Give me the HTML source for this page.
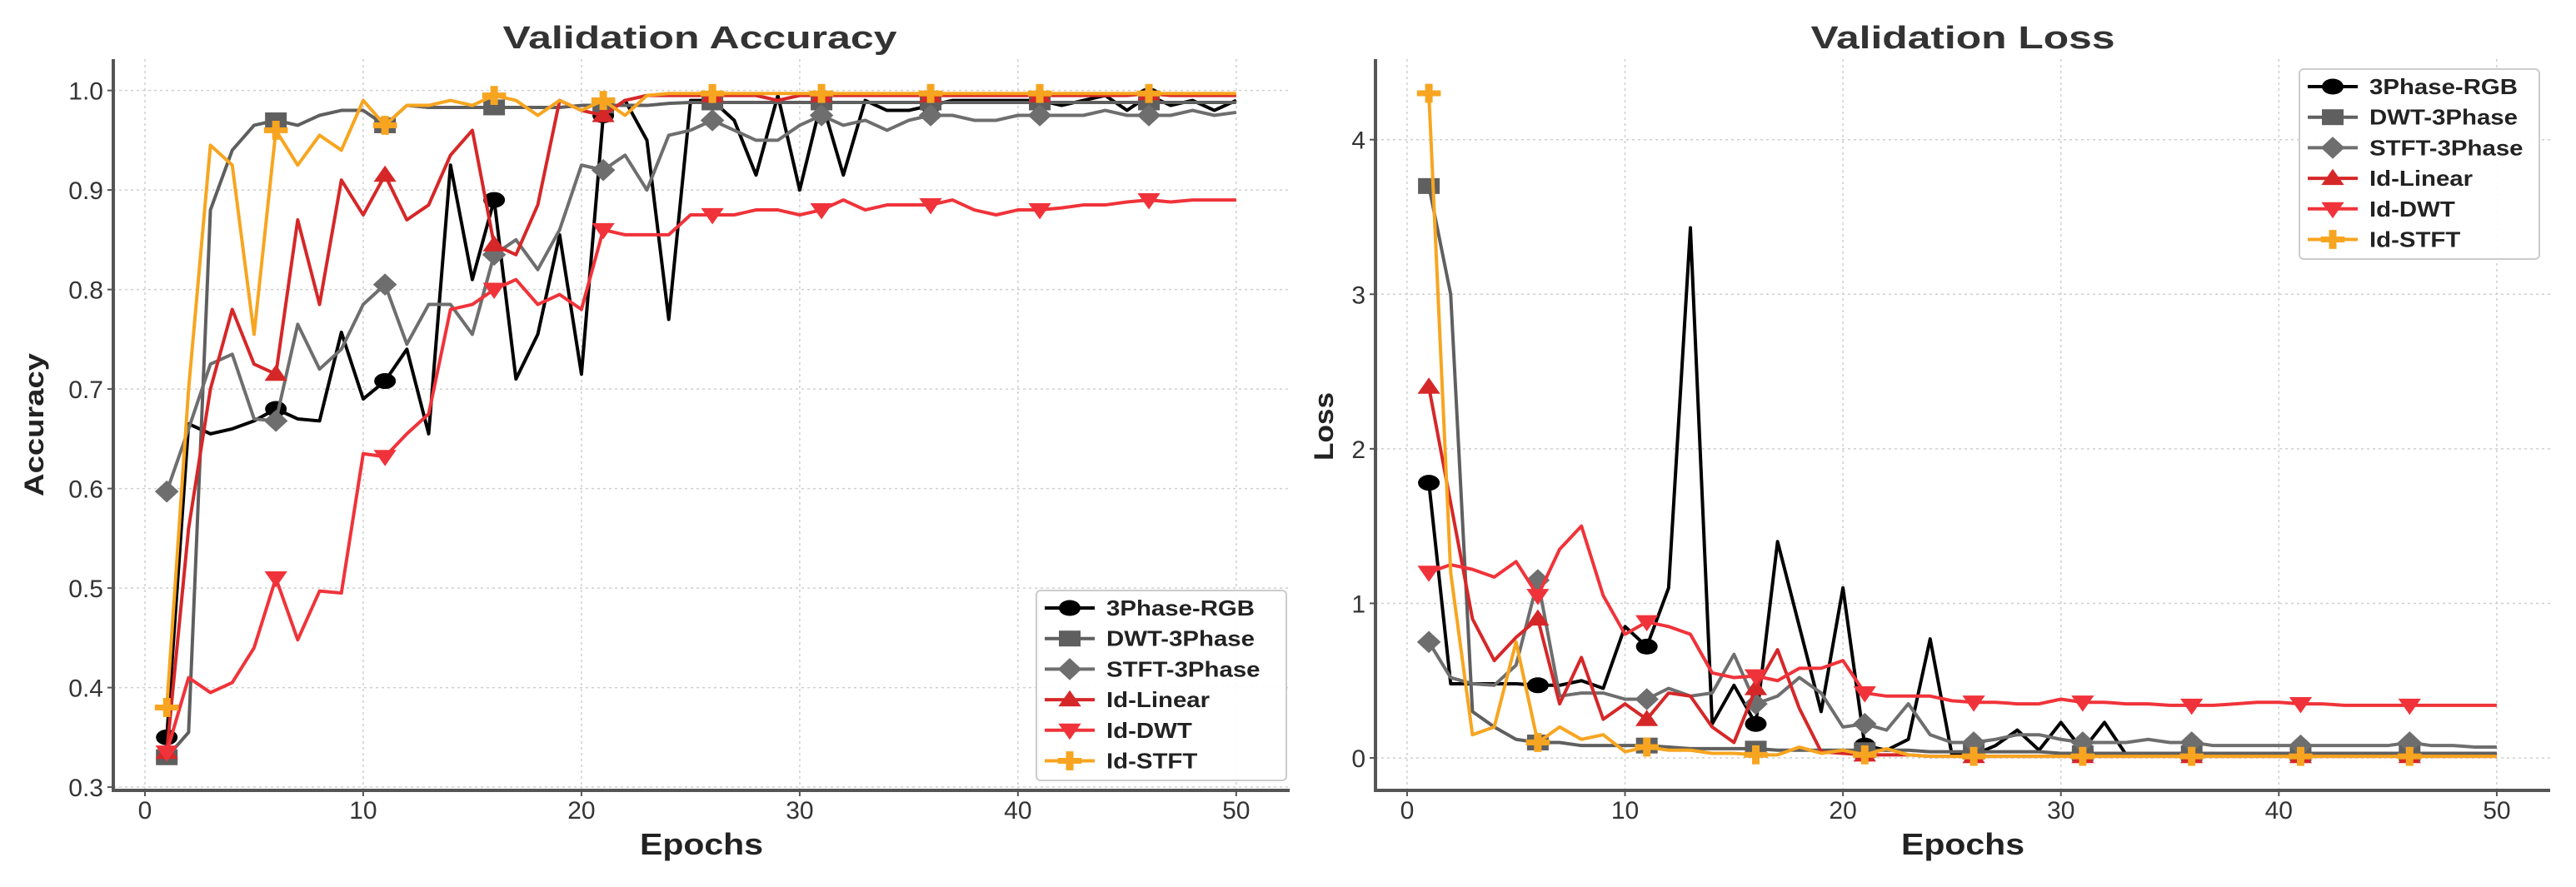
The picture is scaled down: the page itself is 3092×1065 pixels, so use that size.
<!DOCTYPE html>
<html><head><meta charset="utf-8"><style>
html,body{margin:0;padding:0;background:#fff;overflow:hidden}
svg{display:block;font-family:"Liberation Sans","DejaVu Sans",sans-serif}
</style></head><body>
<svg id="fig" width="3092" height="1065" viewBox="0 0 3092 1065" xmlns="http://www.w3.org/2000/svg"></svg>
<script>
const epochs = Array.from({length:50},(_,i)=>i+1);
const seriesNames = ["3Phase-RGB","DWT-3Phase","STFT-3Phase","Id-Linear","Id-DWT","Id-STFT"];
const accRGB = [0.35,0.665,0.655,0.66,0.668,0.68,0.67,0.668,0.757,0.69,0.708,0.74,0.655,0.925,0.81,0.89,0.71,0.755,0.855,0.715,0.975,0.99,0.95,0.77,0.99,0.99,0.97,0.915,0.995,0.9,0.99,0.915,0.99,0.98,0.98,0.985,0.99,0.99,0.99,0.99,0.99,0.985,0.99,0.995,0.98,0.995,0.985,0.99,0.98,0.99];
const accDWT = [0.33,0.355,0.88,0.94,0.965,0.97,0.965,0.975,0.98,0.98,0.965,0.985,0.983,0.983,0.983,0.983,0.983,0.983,0.983,0.985,0.985,0.985,0.985,0.987,0.988,0.988,0.988,0.988,0.988,0.988,0.988,0.988,0.988,0.988,0.988,0.988,0.988,0.988,0.988,0.988,0.988,0.988,0.988,0.988,0.988,0.988,0.988,0.988,0.988,0.988];
const accSTFT = [0.597,0.66,0.725,0.735,0.67,0.668,0.765,0.72,0.74,0.785,0.805,0.745,0.785,0.785,0.755,0.835,0.85,0.82,0.86,0.925,0.92,0.935,0.9,0.955,0.96,0.97,0.96,0.95,0.95,0.965,0.975,0.965,0.97,0.96,0.97,0.975,0.975,0.97,0.97,0.975,0.975,0.975,0.975,0.98,0.975,0.975,0.975,0.98,0.975,0.978];
const accLin = [0.335,0.56,0.7,0.78,0.725,0.715,0.87,0.785,0.91,0.875,0.915,0.87,0.885,0.935,0.96,0.845,0.835,0.885,0.99,0.98,0.975,0.99,0.995,0.995,0.995,0.995,0.995,0.995,0.99,0.995,0.995,0.995,0.995,0.995,0.995,0.995,0.995,0.995,0.995,0.995,0.995,0.995,0.995,0.995,0.995,0.997,0.995,0.995,0.995,0.995];
const accIdDWT = [0.335,0.41,0.395,0.405,0.44,0.51,0.448,0.497,0.495,0.635,0.632,0.655,0.675,0.78,0.785,0.8,0.81,0.785,0.795,0.78,0.86,0.855,0.855,0.855,0.875,0.875,0.875,0.88,0.88,0.875,0.88,0.89,0.88,0.885,0.885,0.885,0.89,0.88,0.875,0.88,0.88,0.882,0.885,0.885,0.888,0.89,0.888,0.89,0.89,0.89];
const accIdSTFT = [0.38,0.7,0.945,0.925,0.755,0.96,0.925,0.955,0.94,0.99,0.965,0.985,0.985,0.99,0.985,0.995,0.99,0.975,0.99,0.98,0.99,0.975,0.995,0.997,0.997,0.997,0.997,0.997,0.997,0.997,0.997,0.997,0.997,0.997,0.997,0.997,0.997,0.997,0.997,0.997,0.997,0.997,0.997,0.997,0.997,0.997,0.997,0.997,0.997,0.997];
const lossRGB = [1.78,0.48,0.48,0.48,0.48,0.47,0.47,0.5,0.45,0.85,0.72,1.1,3.43,0.22,0.47,0.22,1.4,0.85,0.3,1.1,0.08,0.05,0.12,0.77,0.02,0.02,0.08,0.18,0.05,0.23,0.05,0.23,0.02,0.02,0.02,0.02,0.02,0.02,0.02,0.02,0.02,0.02,0.02,0.02,0.02,0.02,0.02,0.02,0.02,0.02];
const lossDWT = [3.7,3.0,0.3,0.2,0.12,0.1,0.1,0.08,0.08,0.08,0.08,0.07,0.06,0.06,0.06,0.06,0.05,0.05,0.05,0.05,0.05,0.05,0.05,0.04,0.04,0.04,0.04,0.04,0.04,0.03,0.03,0.03,0.03,0.03,0.03,0.03,0.03,0.03,0.03,0.03,0.03,0.03,0.03,0.03,0.03,0.03,0.03,0.03,0.03,0.03];
const lossSTFT = [0.75,0.52,0.48,0.47,0.6,1.15,0.4,0.42,0.42,0.38,0.38,0.45,0.4,0.42,0.67,0.35,0.4,0.52,0.42,0.2,0.22,0.18,0.35,0.15,0.1,0.1,0.12,0.15,0.15,0.12,0.1,0.1,0.1,0.12,0.1,0.1,0.08,0.08,0.08,0.08,0.08,0.08,0.08,0.08,0.08,0.1,0.08,0.08,0.07,0.07];
const lossLin = [2.4,1.65,0.9,0.63,0.78,0.9,0.35,0.65,0.25,0.35,0.25,0.42,0.4,0.2,0.1,0.45,0.7,0.32,0.04,0.03,0.02,0.02,0.02,0.01,0.01,0.01,0.01,0.01,0.01,0.01,0.01,0.01,0.01,0.01,0.01,0.01,0.01,0.01,0.01,0.01,0.01,0.01,0.01,0.01,0.01,0.01,0.01,0.01,0.01,0.01];
const lossIdDWT = [1.2,1.25,1.22,1.17,1.27,1.05,1.35,1.5,1.05,0.8,0.88,0.85,0.8,0.55,0.52,0.53,0.5,0.58,0.58,0.63,0.42,0.4,0.4,0.4,0.37,0.36,0.36,0.35,0.35,0.38,0.36,0.36,0.35,0.35,0.34,0.34,0.34,0.35,0.36,0.36,0.35,0.35,0.34,0.34,0.34,0.34,0.34,0.34,0.34,0.34];
const lossIdSTFT = [4.3,1.2,0.15,0.2,0.75,0.1,0.2,0.12,0.15,0.04,0.07,0.05,0.05,0.03,0.03,0.02,0.02,0.07,0.03,0.05,0.02,0.06,0.02,0.01,0.01,0.01,0.01,0.01,0.01,0.01,0.01,0.01,0.01,0.01,0.01,0.01,0.01,0.01,0.01,0.01,0.01,0.01,0.01,0.01,0.01,0.01,0.01,0.01,0.01,0.01];
const xTicks = [0,10,20,30,40,50];
const accTicks = [0.3,0.4,0.5,0.6,0.7,0.8,0.9,1.0];
const accTickLabels = ["0.3","0.4","0.5","0.6","0.7","0.8","0.9","1.0"];
const lossTicks = [0,1,2,3,4];
const lossTickLabels = ["0","1","2","3","4"];

const NS="http://www.w3.org/2000/svg";
const svg=document.getElementById('fig');
function mk(tag,attrs,parent){const e=document.createElementNS(NS,tag);for(const k in attrs)e.setAttribute(k,attrs[k]);(parent||svg).appendChild(e);return e;}
const styles=[
 {c:"#000000",m:"circle"},{c:"#5f5f5f",m:"square"},{c:"#6e6e6e",m:"diamond"},
 {c:"#d62728",m:"tri-up"},{c:"#f0333a",m:"tri-down"},{c:"#f7a520",m:"plus"}];
const SX=13, SY=9.5;
function marker(g,type,x,y,c){
  const a=SX,b=SY;let e;
  if(type==="circle") e=mk('ellipse',{cx:x,cy:y,rx:a,ry:b,fill:c},g);
  else if(type==="square") e=mk('rect',{x:x-a,y:y-b,width:2*a,height:2*b,fill:c},g);
  else if(type==="diamond") e=mk('polygon',{points:`${x},${y-b*1.4} ${x+a*1.1},${y} ${x},${y+b*1.4} ${x-a*1.1},${y}`,fill:c},g);
  else if(type==="tri-up") e=mk('polygon',{points:`${x},${y-b*1.2} ${x+a*1.05},${y+b*0.85} ${x-a*1.05},${y+b*0.85}`,fill:c},g);
  else if(type==="tri-down") e=mk('polygon',{points:`${x},${y+b*1.2} ${x+a*1.05},${y-b*0.85} ${x-a*1.05},${y-b*0.85}`,fill:c},g);
  else {e=mk('g',{},g);mk('rect',{x:x-a*1.1,y:y-3.5,width:a*2.2,height:7,fill:c},e);mk('rect',{x:x-4.5,y:y-b*1.2,width:9,height:b*2.4,fill:c},e);}
  return e;
}
function chart(o){
  const g=mk('g',{});
  
  
  const xs=e=>o.L+(e-o.xmin)/(o.xmax-o.xmin)*(o.R-o.L);
  const ys=v=>o.B-(v-o.ymin)/(o.ymax-o.ymin)*(o.B-o.T);
  xTicks.forEach(t=>{const l=mk('line',{x1:xs(t),x2:xs(t),y1:o.T,y2:o.B,stroke:'#cfcfcf','stroke-width':1.5,'stroke-dasharray':'3,4'},g);});
  o.yt.forEach(t=>{const l=mk('line',{x1:o.L,x2:o.R,y1:ys(t),y2:ys(t),stroke:'#cfcfcf','stroke-width':1.5,'stroke-dasharray':'3,4'},g);});
  o.data.forEach((d,i)=>{
    const sg=mk('g',{},g);
    
    
    const pts=d.map((v,j)=>xs(epochs[j])+','+ys(v)).join(' ');
    mk('polyline',{points:pts,fill:'none',stroke:styles[i].c,'stroke-width':4,'stroke-linejoin':'round'},sg);
    d.forEach((v,j)=>{ if(j%5===0){const m=marker(sg,styles[i].m,xs(epochs[j]),ys(v),styles[i].c);}});
  });
  const ax=mk('path',{d:`M${o.L},${o.T}V${o.B}H${o.R}`,stroke:'#555','stroke-width':4,fill:'none'},g);
  
  xTicks.forEach(t=>{mk('line',{x1:xs(t),x2:xs(t),y1:o.B,y2:o.B+7,stroke:'#555','stroke-width':2},g);
    const tx=mk('text',{x:xs(t),y:o.B+34,'font-size':30,'text-anchor':'middle',fill:'#333'},g);tx.textContent=t;});
  o.yt.forEach((t,k)=>{mk('line',{x1:o.L-7,x2:o.L,y1:ys(t),y2:ys(t),stroke:'#555','stroke-width':2},g);
    const tx=mk('text',{x:o.L-12,y:ys(t)+11,'font-size':30,'text-anchor':'end',fill:'#333'},g);tx.textContent=o.ytl[k];});
  const ti=mk('text',{x:o.tx,y:58,'font-size':38,'font-weight':'bold','text-anchor':'middle',fill:'#333',textLength:o.tw,lengthAdjust:'spacingAndGlyphs'},g);ti.textContent=o.title;
  const xl=mk('text',{x:(o.L+o.R)/2,y:1026,'font-size':36,'font-weight':'bold','text-anchor':'middle',fill:'#222',textLength:148,lengthAdjust:'spacingAndGlyphs'},g);xl.textContent='Epochs';
  const yl=mk('text',{x:0,y:0,'font-size':32,'font-weight':'bold','text-anchor':'middle',fill:'#222',textLength:o.ylw,lengthAdjust:'spacingAndGlyphs',transform:`translate(${o.ylx},${o.yly}) rotate(-90)`},g);yl.textContent=o.ylabel;
  const lg=mk('g',{},g);
  mk('rect',{x:o.lx,y:o.ly,width:o.lw,height:228,rx:5,fill:'#fff','fill-opacity':0.9,stroke:'#ccc','stroke-width':2},lg);
  seriesNames.forEach((n,i)=>{
    const e=mk('g',{},lg);
    const cy=o.ly+21+i*36.7;
    mk('line',{x1:o.lx+10,x2:o.lx+70,y1:cy,y2:cy,stroke:styles[i].c,'stroke-width':4},e);
    marker(e,styles[i].m,o.lx+40,cy,styles[i].c);
    const t=mk('text',{x:o.lx+84,y:cy+9,'font-size':26,'font-weight':'bold',fill:'#222'},e);t.textContent=n;
    const w=t.getComputedTextLength();
    if(w>0){t.setAttribute('textLength',(w*1.13).toFixed(1));t.setAttribute('lengthAdjust','spacingAndGlyphs');}
  });
}
chart({name:'accuracy-chart',title:'Validation Accuracy',tx:840,tw:473,ylabel:'Accuracy',ylw:172,ylx:52,yly:510,L:136,R:1548,T:71,B:949,xmin:-1.45,xmax:52.45,ymin:0.2967,ymax:1.0315,yt:accTicks,ytl:accTickLabels,
  data:[accRGB,accDWT,accSTFT,accLin,accIdDWT,accIdSTFT],lx:1244,ly:709,lw:300});
chart({name:'loss-chart',title:'Validation Loss',tx:2356,tw:365,ylabel:'Loss',ylw:82,ylx:1600,yly:512,L:1651,R:3061,T:71,B:949,xmin:-1.45,xmax:52.45,ymin:-0.21,ymax:4.521,yt:lossTicks,ytl:lossTickLabels,
  data:[lossRGB,lossDWT,lossSTFT,lossLin,lossIdDWT,lossIdSTFT],lx:2760,ly:83,lw:288});
</script>
</body></html>
